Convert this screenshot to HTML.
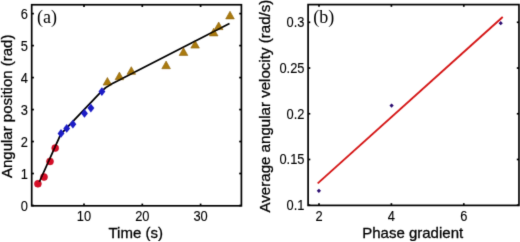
<!DOCTYPE html>
<html><head><meta charset="utf-8"><style>
html,body{margin:0;padding:0;background:#fff;width:520px;height:242px;overflow:hidden}
svg{display:block;will-change:transform}
</style></head><body>
<svg width="520" height="242" viewBox="0 0 520 242">
<defs><filter id="bl" x="-5%" y="-5%" width="110%" height="110%"><feConvolveMatrix order="3" kernelMatrix="0.01134 0.08382 0.01134 0.08382 0.61935 0.08382 0.01134 0.08382 0.01134" divisor="1" edgeMode="duplicate" preserveAlpha="false"/></filter></defs>
<g filter="url(#bl)">
<rect x="31.7" y="4.75" width="209.7" height="201.05" fill="none" stroke="#000" stroke-width="1.7"/>
<line x1="84" y1="205.8" x2="84" y2="203.6" stroke="#000" stroke-width="1.7" />
<line x1="84" y1="4.75" x2="84" y2="6.95" stroke="#000" stroke-width="1.7" />
<text transform="translate(84 221) scale(0.92 1)" font-family="Liberation Sans, sans-serif" font-size="14" text-anchor="middle" stroke="#000" stroke-width="0.12">10</text>
<line x1="142.3" y1="205.8" x2="142.3" y2="203.6" stroke="#000" stroke-width="1.7" />
<line x1="142.3" y1="4.75" x2="142.3" y2="6.95" stroke="#000" stroke-width="1.7" />
<text transform="translate(142.3 221) scale(0.92 1)" font-family="Liberation Sans, sans-serif" font-size="14" text-anchor="middle" stroke="#000" stroke-width="0.12">20</text>
<line x1="200.6" y1="205.8" x2="200.6" y2="203.6" stroke="#000" stroke-width="1.7" />
<line x1="200.6" y1="4.75" x2="200.6" y2="6.95" stroke="#000" stroke-width="1.7" />
<text transform="translate(200.6 221) scale(0.92 1)" font-family="Liberation Sans, sans-serif" font-size="14" text-anchor="middle" stroke="#000" stroke-width="0.12">30</text>
<line x1="31.7" y1="205.5" x2="33.9" y2="205.5" stroke="#000" stroke-width="1.7" />
<line x1="241.4" y1="205.5" x2="239.2" y2="205.5" stroke="#000" stroke-width="1.7" />
<text transform="translate(28 210.5) scale(0.92 1)" font-family="Liberation Sans, sans-serif" font-size="14" text-anchor="end" stroke="#000" stroke-width="0.12">0</text>
<line x1="31.7" y1="173.52" x2="33.9" y2="173.52" stroke="#000" stroke-width="1.7" />
<line x1="241.4" y1="173.52" x2="239.2" y2="173.52" stroke="#000" stroke-width="1.7" />
<text transform="translate(28 178.52) scale(0.92 1)" font-family="Liberation Sans, sans-serif" font-size="14" text-anchor="end" stroke="#000" stroke-width="0.12">1</text>
<line x1="31.7" y1="141.54" x2="33.9" y2="141.54" stroke="#000" stroke-width="1.7" />
<line x1="241.4" y1="141.54" x2="239.2" y2="141.54" stroke="#000" stroke-width="1.7" />
<text transform="translate(28 146.54) scale(0.92 1)" font-family="Liberation Sans, sans-serif" font-size="14" text-anchor="end" stroke="#000" stroke-width="0.12">2</text>
<line x1="31.7" y1="109.56" x2="33.9" y2="109.56" stroke="#000" stroke-width="1.7" />
<line x1="241.4" y1="109.56" x2="239.2" y2="109.56" stroke="#000" stroke-width="1.7" />
<text transform="translate(28 114.56) scale(0.92 1)" font-family="Liberation Sans, sans-serif" font-size="14" text-anchor="end" stroke="#000" stroke-width="0.12">3</text>
<line x1="31.7" y1="77.58" x2="33.9" y2="77.58" stroke="#000" stroke-width="1.7" />
<line x1="241.4" y1="77.58" x2="239.2" y2="77.58" stroke="#000" stroke-width="1.7" />
<text transform="translate(28 82.58) scale(0.92 1)" font-family="Liberation Sans, sans-serif" font-size="14" text-anchor="end" stroke="#000" stroke-width="0.12">4</text>
<line x1="31.7" y1="45.6" x2="33.9" y2="45.6" stroke="#000" stroke-width="1.7" />
<line x1="241.4" y1="45.6" x2="239.2" y2="45.6" stroke="#000" stroke-width="1.7" />
<text transform="translate(28 50.6) scale(0.92 1)" font-family="Liberation Sans, sans-serif" font-size="14" text-anchor="end" stroke="#000" stroke-width="0.12">5</text>
<line x1="31.7" y1="13.62" x2="33.9" y2="13.62" stroke="#000" stroke-width="1.7" />
<line x1="241.4" y1="13.62" x2="239.2" y2="13.62" stroke="#000" stroke-width="1.7" />
<text transform="translate(28 18.62) scale(0.92 1)" font-family="Liberation Sans, sans-serif" font-size="14" text-anchor="end" stroke="#000" stroke-width="0.12">6</text>
<rect x="308.1" y="4.6" width="210.9" height="200.8" fill="none" stroke="#000" stroke-width="1.7"/>
<line x1="319" y1="205.4" x2="319" y2="203.2" stroke="#000" stroke-width="1.7" />
<line x1="319" y1="4.6" x2="319" y2="6.8" stroke="#000" stroke-width="1.7" />
<text transform="translate(319 221) scale(0.92 1)" font-family="Liberation Sans, sans-serif" font-size="14" text-anchor="middle" stroke="#000" stroke-width="0.12">2</text>
<line x1="391.4" y1="205.4" x2="391.4" y2="203.2" stroke="#000" stroke-width="1.7" />
<line x1="391.4" y1="4.6" x2="391.4" y2="6.8" stroke="#000" stroke-width="1.7" />
<text transform="translate(391.4 221) scale(0.92 1)" font-family="Liberation Sans, sans-serif" font-size="14" text-anchor="middle" stroke="#000" stroke-width="0.12">4</text>
<line x1="463.8" y1="205.4" x2="463.8" y2="203.2" stroke="#000" stroke-width="1.7" />
<line x1="463.8" y1="4.6" x2="463.8" y2="6.8" stroke="#000" stroke-width="1.7" />
<text transform="translate(463.8 221) scale(0.92 1)" font-family="Liberation Sans, sans-serif" font-size="14" text-anchor="middle" stroke="#000" stroke-width="0.12">6</text>
<line x1="308.1" y1="205.2" x2="310.3" y2="205.2" stroke="#000" stroke-width="1.7" />
<line x1="519" y1="205.2" x2="516.8" y2="205.2" stroke="#000" stroke-width="1.7" />
<text transform="translate(304.5 210.2) scale(0.92 1)" font-family="Liberation Sans, sans-serif" font-size="14" text-anchor="end" stroke="#000" stroke-width="0.12">0.1</text>
<line x1="308.1" y1="159.47" x2="310.3" y2="159.47" stroke="#000" stroke-width="1.7" />
<line x1="519" y1="159.47" x2="516.8" y2="159.47" stroke="#000" stroke-width="1.7" />
<text transform="translate(304.5 164.47) scale(0.92 1)" font-family="Liberation Sans, sans-serif" font-size="14" text-anchor="end" stroke="#000" stroke-width="0.12">0.15</text>
<line x1="308.1" y1="113.75" x2="310.3" y2="113.75" stroke="#000" stroke-width="1.7" />
<line x1="519" y1="113.75" x2="516.8" y2="113.75" stroke="#000" stroke-width="1.7" />
<text transform="translate(304.5 118.75) scale(0.92 1)" font-family="Liberation Sans, sans-serif" font-size="14" text-anchor="end" stroke="#000" stroke-width="0.12">0.2</text>
<line x1="308.1" y1="68.03" x2="310.3" y2="68.03" stroke="#000" stroke-width="1.7" />
<line x1="519" y1="68.03" x2="516.8" y2="68.03" stroke="#000" stroke-width="1.7" />
<text transform="translate(304.5 73.03) scale(0.92 1)" font-family="Liberation Sans, sans-serif" font-size="14" text-anchor="end" stroke="#000" stroke-width="0.12">0.25</text>
<line x1="308.1" y1="22.3" x2="310.3" y2="22.3" stroke="#000" stroke-width="1.7" />
<line x1="519" y1="22.3" x2="516.8" y2="22.3" stroke="#000" stroke-width="1.7" />
<text transform="translate(304.5 27.3) scale(0.92 1)" font-family="Liberation Sans, sans-serif" font-size="14" text-anchor="end" stroke="#000" stroke-width="0.12">0.3</text>
<circle cx="37.9" cy="183.8" r="3.5" fill="#d80a26" stroke="#b8081c" stroke-width="0.5"/>
<circle cx="44" cy="177" r="3.5" fill="#d80a26" stroke="#b8081c" stroke-width="0.5"/>
<circle cx="50" cy="161.4" r="3.5" fill="#d80a26" stroke="#b8081c" stroke-width="0.5"/>
<circle cx="55.2" cy="148.1" r="3.5" fill="#d80a26" stroke="#b8081c" stroke-width="0.5"/>
<polygon points="107.4,77.5 111.7,85.1 103.1,85.1" fill="#aa7a10" stroke="#8a6008" stroke-width="0.6" stroke-linejoin="round"/>
<polygon points="119.4,72.1 123.7,79.7 115.1,79.7" fill="#aa7a10" stroke="#8a6008" stroke-width="0.6" stroke-linejoin="round"/>
<polygon points="131.3,66.7 135.6,74.3 127,74.3" fill="#aa7a10" stroke="#8a6008" stroke-width="0.6" stroke-linejoin="round"/>
<polygon points="166.1,61.1 170.4,68.7 161.8,68.7" fill="#aa7a10" stroke="#8a6008" stroke-width="0.6" stroke-linejoin="round"/>
<polygon points="183.5,47.8 187.8,55.4 179.2,55.4" fill="#aa7a10" stroke="#8a6008" stroke-width="0.6" stroke-linejoin="round"/>
<polygon points="195.1,40.5 199.4,48.1 190.8,48.1" fill="#aa7a10" stroke="#8a6008" stroke-width="0.6" stroke-linejoin="round"/>
<polygon points="213.7,28.3 218,35.9 209.4,35.9" fill="#aa7a10" stroke="#8a6008" stroke-width="0.6" stroke-linejoin="round"/>
<polygon points="218.7,22 223,29.6 214.4,29.6" fill="#aa7a10" stroke="#8a6008" stroke-width="0.6" stroke-linejoin="round"/>
<polygon points="230,11.3 234.3,18.9 225.7,18.9" fill="#aa7a10" stroke="#8a6008" stroke-width="0.6" stroke-linejoin="round"/>
<path d="M39.3,182 L60.8,134.2 L101.5,91.4 Q105.9,86.8 112,83.7 L229.5,23.5" fill="none" stroke="#000" stroke-width="1.8" stroke-linejoin="round"/>
<polygon points="61,129 64.4,133.4 61,137.8 57.6,133.4" fill="#1a1ac6"/>
<polygon points="66.7,124 70.1,128.4 66.7,132.8 63.3,128.4" fill="#1a1ac6"/>
<polygon points="72.9,119.8 76.3,124.2 72.9,128.6 69.5,124.2" fill="#1a1ac6"/>
<polygon points="84.5,109 87.9,113.4 84.5,117.8 81.1,113.4" fill="#1a1ac6"/>
<polygon points="90.9,103.7 94.3,108.1 90.9,112.5 87.5,108.1" fill="#1a1ac6"/>
<polygon points="101.9,87.2 105.3,91.6 101.9,96 98.5,91.6" fill="#1a1ac6"/>
<line x1="317.7" y1="183.4" x2="502.7" y2="17" stroke="#d41212" stroke-width="1.8"/>
<polygon points="318.9,188.7 321,190.8 318.9,192.9 316.8,190.8" fill="#2a0a70"/>
<polygon points="391.6,103.5 393.7,105.6 391.6,107.7 389.5,105.6" fill="#2a0a70"/>
<polygon points="500.7,21.1 502.8,23.2 500.7,25.3 498.6,23.2" fill="#2a0a70"/>
<text x="37" y="22.7" font-family="Liberation Serif, serif" font-size="18" text-anchor="start" stroke="#000" stroke-width="0" >(a)</text>
<text x="313.2" y="22.8" font-family="Liberation Serif, serif" font-size="18" text-anchor="start" stroke="#000" stroke-width="0" >(b)</text>
<text x="135.7" y="237.7" font-family="Liberation Sans, sans-serif" font-size="15" text-anchor="middle" stroke="#000" stroke-width="0.3" >Time (s)</text>
<text x="412.7" y="237.7" font-family="Liberation Sans, sans-serif" font-size="15" text-anchor="middle" stroke="#000" stroke-width="0.3" >Phase gradient</text>
<text x="11.9" y="106.3" font-family="Liberation Sans, sans-serif" font-size="15" text-anchor="middle" stroke="#000" stroke-width="0.3" transform="rotate(-90 11.9 106.3)">Angular position (rad)</text>
<text x="270.5" y="106.1" font-family="Liberation Sans, sans-serif" font-size="15.1" text-anchor="middle" stroke="#000" stroke-width="0.3" transform="rotate(-90 270.5 106.1)">Average angular velocity (rad/s)</text>
</g>
</svg>
</body></html>
